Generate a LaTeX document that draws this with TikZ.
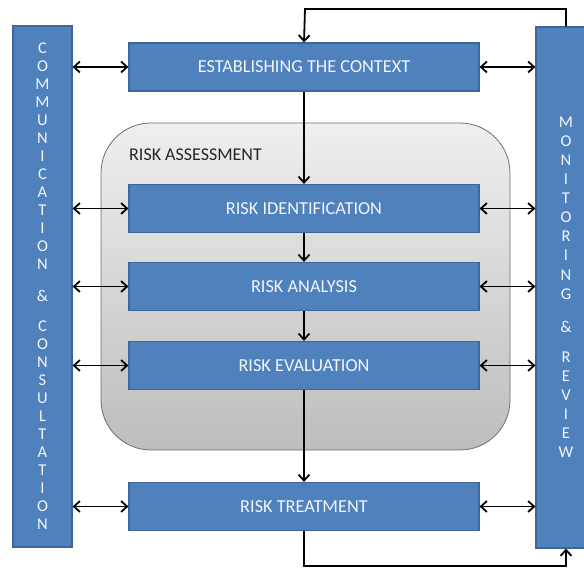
\documentclass[tikz,border=0pt]{standalone}
\usepackage{fontspec}
\setmainfont{Carlito}
\usetikzlibrary{arrows.meta,calc}

\definecolor{boxblue}{HTML}{4F81BD}
\definecolor{boxedge}{HTML}{3D679A}
\definecolor{txtwhite}{HTML}{F2F5FA}
\definecolor{greytop}{HTML}{EFEFEF}
\definecolor{greybot}{HTML}{BDBDBD}
\definecolor{greyedge}{HTML}{6E6E6E}

\tikzset{
  stepbox/.style={draw=boxedge, line width=1.2pt, fill=boxblue, minimum width=350pt,
    minimum height=48pt, inner sep=0pt, text=txtwhite, font=\fontsize{18.3}{20}\selectfont},
  sidebar/.style={draw=boxedge, line width=1.2pt, fill=boxblue, minimum width=59pt,
    minimum height=521pt, inner sep=0pt},
  barletter/.style={text=txtwhite, font=\fontsize{16.5}{18}\selectfont, inner sep=0pt},
  tip/.style={Straight Barb[length=6pt,width=11pt,line width=1.8pt]},
  conn/.style={line width=1.8pt, -{Straight Barb[length=6pt,width=11pt,line width=1.8pt]}},
  biconn/.style={line width=1.8pt, {Straight Barb[length=6pt,width=11pt,line width=1.8pt]}-{Straight Barb[length=6pt,width=11pt,line width=1.8pt]}},
}

\begin{document}
\begin{tikzpicture}[x=1pt,y=-1pt]
  \useasboundingbox (0,0) rectangle (584,570);
  \clip (0,0) rectangle (584,570);

  % risk assessment frame
  \node[draw=greyedge, line width=0.8pt, rounded corners=50pt, top color=greytop,
    bottom color=greybot, minimum width=409pt, minimum height=327pt, inner sep=0pt]
    (assess) at (305.5,286.5) {};
  \node[anchor=west, text=black!85, font=\fontsize{18}{20}\selectfont, inner sep=0pt]
    (assesslabel) at (129,155) {RISK ASSESSMENT};

  % side bars
  \node[sidebar] (comm) at (42.5,286.5) {};
  \node[sidebar, minimum width=60pt] (mon) at (566,287.5) {};

  % process steps
  \node[stepbox] (ctx)   at (304,67)    {ESTABLISHING THE CONTEXT};
  \node[stepbox] (ident) at (304,208.5) {RISK IDENTIFICATION};
  \node[stepbox] (anal)  at (304,286.5) {RISK ANALYSIS};
  \node[stepbox] (eval)  at (304,365.5) {RISK EVALUATION};
  \node[stepbox] (treat) at (304,506.5) {RISK TREATMENT};

  % vertical lettering on the side bars
  \foreach \ch [count=\i from 0] in {C,O,M,M,U,N,I,C,A,T,I,O,N}
    \node[barletter] (cl\i) at (42.5,48+18*\i) {\ch};
  \node[barletter] (camp) at (42.5,296) {\&};
  \foreach \ch [count=\i from 0] in {C,O,N,S,U,L,T,A,T,I,O,N}
    \node[barletter] (cr\i) at (42.5,326+18*\i) {\ch};

  \foreach \ch [count=\i from 0] in {M,O,N,I,T,O,R,I,N,G}
    \node[barletter] (ml\i) at (566,122+19.1*\i) {\ch};
  \node[barletter] (mamp) at (566,327) {\&};
  \foreach \ch [count=\i from 0] in {R,E,V,I,E,W}
    \node[barletter] (mr\i) at (566,357+19*\i) {\ch};

  % flow through the process
  \draw[conn] (ctx.south) -- (ident.north);
  \draw[conn] (ident.south) -- (anal.north);
  \draw[conn] (anal.south) -- (eval.north);
  \draw[conn] (eval.south) -- (treat.north);

  % feedback loop through monitoring & review
  \coordinate (fbtop) at (305,9);
  \coordinate (fbbot) at (566,566);
  \draw[conn] (mon.north) |- (fbtop) -- (ctx.north);
  \draw[conn] (treat.south) |- (fbbot) -- (mon.south);

  % links to communication and to monitoring
  \foreach \b in {ctx,ident,anal,eval,treat} {
    \draw[biconn] (comm.east |- \b.west) -- (\b.west);
    \draw[biconn] (\b.east) -- (mon.west |- \b.east);
  }
\end{tikzpicture}
\end{document}
